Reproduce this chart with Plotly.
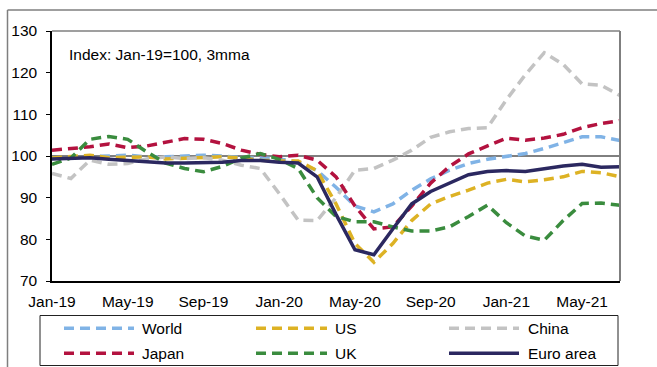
import plotly.graph_objects as go

# ---------------- data ----------------
months = ["Jan-19", "Feb-19", "Mar-19", "Apr-19", "May-19", "Jun-19", "Jul-19", "Aug-19",
          "Sep-19", "Oct-19", "Nov-19", "Dec-19", "Jan-20", "Feb-20", "Mar-20", "Apr-20",
          "May-20", "Jun-20", "Jul-20", "Aug-20", "Sep-20", "Oct-20", "Nov-20", "Dec-20",
          "Jan-21", "Feb-21", "Mar-21", "Apr-21", "May-21", "Jun-21", "Jul-21"]

world = [99.5, 99.6, 99.8, 100.0, 100.2, 99.8, 99.8, 100.0, 100.2, 100.0, 99.6, 99.5,
         99.3, 98.5, 96.5, 92.5, 88.0, 86.6, 88.5, 91.8, 94.5, 96.6, 98.2, 99.2,
         99.8, 100.6, 101.8, 103.3, 104.6, 104.6, 103.7]
us = [99.5, 99.8, 100.2, 99.6, 99.6, 99.8, 99.3, 99.5, 99.8, 99.8, 99.5, 99.0,
      98.8, 98.8, 96.5, 88.5, 79.0, 74.5, 79.0, 84.5, 88.5, 90.3, 91.8, 93.5,
      94.4, 93.8, 94.3, 95.0, 96.3, 96.0, 95.0]
china = [95.8, 94.6, 99.0, 98.0, 98.2, 99.3, 99.8, 99.4, 99.6, 99.0, 97.8, 97.0,
         91.0, 84.6, 84.5, 90.0, 96.6, 97.0, 99.0, 101.4, 104.5, 105.8, 106.6, 106.8,
         113.5, 119.5, 124.8, 122.0, 117.3, 117.0, 114.5]
japan = [101.4, 101.8, 102.2, 102.9, 102.0, 102.4, 103.3, 104.2, 104.0, 103.0, 101.4, 100.4,
         99.8, 100.2, 99.0, 95.0, 88.0, 82.5, 83.0, 88.0, 93.5, 97.5, 100.5, 102.5,
         104.3, 103.8, 104.3, 105.2, 106.8, 107.8, 108.5]
uk = [98.0, 99.5, 104.0, 104.7, 104.0, 101.0, 98.3, 97.0, 96.2, 97.5, 99.5, 100.6,
      99.2, 97.0, 90.0, 85.5, 84.2, 84.2, 83.0, 82.0, 82.0, 83.0, 85.5, 88.2,
      84.0, 80.8, 79.8, 84.5, 88.6, 88.7, 88.2]
euro = [99.3, 99.4, 99.6, 99.2, 98.9, 98.5, 98.3, 98.3, 98.3, 98.5, 98.9, 98.9,
        98.5, 98.3, 95.0, 86.0, 77.5, 76.3, 82.5, 88.5, 91.5, 93.5, 95.5, 96.3,
        96.5, 96.3, 97.0, 97.6, 98.0, 97.3, 97.4]

series_names = ["World", "US", "China", "Japan", "UK", "Euro area"]
series_values = [world, us, china, japan, uk, euro]
series_colors = ["#80B3E6", "#DDB224", "#C3C3C3", "#B3123F", "#3A8C3E", "#2B2860"]
series_dash = ["10px,6px", "10px,6px", "10px,6px", "10px,6px", "10px,6px", "solid"]

y_ticks = [70, 80, 90, 100, 110, 120, 130]
x_ticks = months[::4]
note_text = "Index: Jan-19=100, 3mma"

# ---------------- figure ----------------
W, H = 657, 367
L, R, T, B = 52, 620, 31, 281   # plot area in pixels
FONT = "Liberation Sans, Arial, sans-serif"


def px(x):
    return (x - L) / (R - L)


def py(y):
    return (B - y) / (B - T)


fig = go.Figure()
for name, vals, col, dash in zip(series_names, series_values, series_colors, series_dash):
    fig.add_trace(go.Scatter(
        x=months, y=vals, mode="lines", name=name, showlegend=False,
        line=dict(color=col, width=3.5, dash=dash),
    ))

shapes = []
# reference line at 100
shapes.append(dict(type="line", xref="paper", yref="y", x0=0, x1=1, y0=100, y1=100,
                   line=dict(color="black", width=1), layer="below"))
# plot frame (top / right in grey)
shapes.append(dict(type="line", xref="paper", yref="paper", x0=0, x1=1, y0=1, y1=1,
                   line=dict(color="#7f7f7f", width=1.5)))
shapes.append(dict(type="line", xref="paper", yref="paper", x0=1, x1=1, y0=0, y1=1,
                   line=dict(color="#7f7f7f", width=2)))
# outer frame of the exhibit
shapes.append(dict(type="line", xref="paper", yref="paper", x0=px(7.5), x1=px(660),
                   y0=py(10), y1=py(10), line=dict(color="#7f7f7f", width=1.5)))
shapes.append(dict(type="line", xref="paper", yref="paper", x0=px(7.5), x1=px(7.5),
                   y0=py(10), y1=py(370), line=dict(color="#7f7f7f", width=1.5)))
# legend box
shapes.append(dict(type="rect", xref="paper", yref="paper", x0=px(40), x1=px(618),
                   y0=py(365.5), y1=py(315.5), line=dict(color="#222222", width=1)))

annotations = [dict(text=note_text, xref="paper", yref="paper", x=px(67), y=py(55),
                    xanchor="left", yanchor="middle", showarrow=False,
                    font=dict(family=FONT, size=15.5, color="black"))]

# manual legend
col_sample = [(64, 134), (256, 327), (449, 519)]
col_text = [140, 333, 526]
row_y = [328.3, 353.3]
for i, (name, col, dash) in enumerate(zip(series_names, series_colors, series_dash)):
    r, c = divmod(i, 3)
    x0, x1 = col_sample[c]
    shapes.append(dict(type="line", xref="paper", yref="paper", x0=px(x0), x1=px(x1),
                       y0=py(row_y[r]), y1=py(row_y[r]),
                       line=dict(color=col, width=3.5, dash=dash)))
    annotations.append(dict(text=name, xref="paper", yref="paper", x=px(col_text[c]),
                            y=py(row_y[r]), xanchor="left", yanchor="middle",
                            showarrow=False,
                            font=dict(family=FONT, size=15.5, color="black")))

fig.update_layout(
    width=W, height=H,
    margin=dict(l=L, r=W - R, t=T, b=H - B, pad=0),
    paper_bgcolor="white", plot_bgcolor="white",
    font=dict(family=FONT, size=15.5, color="black"),
    shapes=shapes, annotations=annotations,
    showlegend=False,
)
fig.update_xaxes(
    type="category", range=[0, len(months) - 1],
    tickmode="array", tickvals=x_ticks, ticktext=x_ticks,
    showline=True, linecolor="black", linewidth=1.5,
    ticks="", showgrid=False, zeroline=False, ticklabelstandoff=6,
    tickfont=dict(family=FONT, size=15.5, color="black"),
)
fig.update_yaxes(
    range=[70, 130], tickmode="array", tickvals=y_ticks,
    showline=True, linecolor="black", linewidth=1.5,
    ticks="outside", ticklen=4, tickcolor="black", tickwidth=1,
    showgrid=False, zeroline=False, ticklabelstandoff=6,
    tickfont=dict(family=FONT, size=15.5, color="black"),
)

fig.write_html("out.html")
